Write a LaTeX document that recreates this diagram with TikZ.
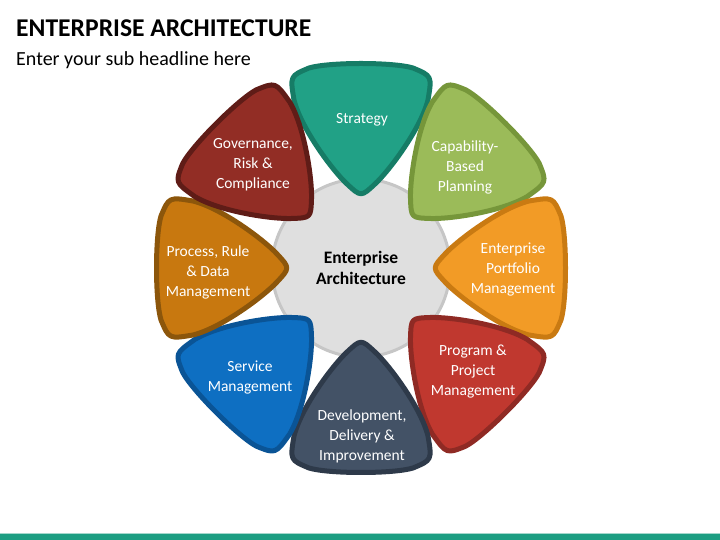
\documentclass[tikz,border=0pt]{standalone}
\usepackage{fontspec}
\setmainfont{Carlito}
\usepackage{tikz}
\usetikzlibrary{positioning}

\definecolor{stratfill}{HTML}{21A186}
\definecolor{stratline}{HTML}{167C66}
\definecolor{capfill}{HTML}{9BBB59}
\definecolor{capline}{HTML}{76963A}
\definecolor{portfill}{HTML}{F29B26}
\definecolor{portline}{HTML}{C97A12}
\definecolor{progfill}{HTML}{C0382F}
\definecolor{progline}{HTML}{8F2A24}
\definecolor{devfill}{HTML}{435266}
\definecolor{devline}{HTML}{2E3A4A}
\definecolor{servfill}{HTML}{0E6FC2}
\definecolor{servline}{HTML}{0A5496}
\definecolor{procfill}{HTML}{C8780F}
\definecolor{procline}{HTML}{8C560B}
\definecolor{govfill}{HTML}{922D25}
\definecolor{govline}{HTML}{5F1C17}
\definecolor{barteal}{HTML}{1D9E82}

\begin{document}
\begin{tikzpicture}[
    x=1pt, y=1pt,
    txt/.style={text=white, align=center, inner sep=0pt, font=\fontsize{15.5}{20}\selectfont},
    hub/.style={circle, fill=gray!25, draw=gray!45, line width=3pt, minimum size=178pt, align=center, font=\fontsize{17.5}{20.5}\selectfont\bfseries},
    leaf/.style={line width=5pt, line join=round},
    petal/.pic={
        \path[pic actions] (-14,84) .. controls (-29,98) and (-60,140) .. (-67,168)
            .. controls (-71,192) .. (-52,200)
            .. controls (-32,206) and (32,206) .. (52,200)
            .. controls (71,192) .. (67,168)
            .. controls (60,140) and (29,98) .. (14,84)
            .. controls (0,71) .. cycle;
    },
]
    \useasboundingbox (0,0) rectangle (720,540);

    % Headline
    \node[anchor=base west, inner sep=0pt, font=\fontsize{25.6}{30}\selectfont\bfseries] (title) at (16,503.3) {ENTERPRISE ARCHITECTURE};
    \node[anchor=base west, inner sep=0pt, font=\fontsize{20}{24}\selectfont] (subtitle) at (16,474) {Enter your sub headline here};

    % Hub
    \node[hub] (hub) at (361,272) {Enterprise\\Architecture};

    % Petals
    \pic[leaf, fill=stratfill, draw=stratline] at (hub.center) {petal};
    \pic[leaf, rotate=-45, fill=capfill, draw=capline] at (hub.center) {petal};
    \pic[leaf, rotate=-90, fill=portfill, draw=portline] at (hub.center) {petal};
    \pic[leaf, rotate=-135, fill=progfill, draw=progline] at (hub.center) {petal};
    \pic[leaf, rotate=180, fill=devfill, draw=devline] at (hub.center) {petal};
    \pic[leaf, rotate=135, fill=servfill, draw=servline] at (hub.center) {petal};
    \pic[leaf, rotate=90, fill=procfill, draw=procline] at (hub.center) {petal};
    \pic[leaf, rotate=45, fill=govfill, draw=govline] at (hub.center) {petal};

    % Petal texts
    \node[txt] (strategy) at (362,420) {Strategy};
    \node[txt] (capability) at (465,373) {Capability-\\Based\\Planning};
    \node[txt] (portfolio) at (513,270) {Enterprise\\Portfolio\\Management};
    \node[txt] (program) at (473,168) {Program \&\\Project\\Management};
    \node[txt] (delivery) at (362,104) {Development,\\Delivery \&\\Improvement};
    \node[txt] (service) at (250,162) {Service\\Management};
    \node[txt] (process) at (208,268) {Process, Rule\\\& Data\\Management};
    \node[txt] (governance) at (253,375) {Governance,\\Risk \&\\Compliance};

    % Bottom bar
    \fill[barteal] (0,0) rectangle (720,5.5);
    \draw[barteal!40, line width=0.6pt] (0,6.3) -- (720,6.3);
\end{tikzpicture}
\end{document}
